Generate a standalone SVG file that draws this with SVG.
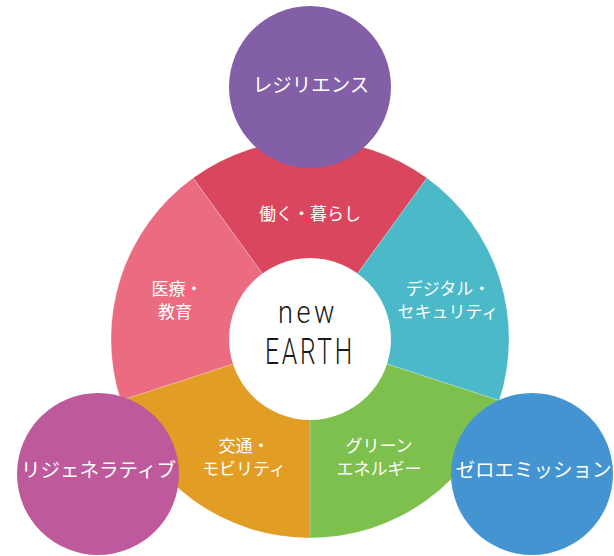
<svg xmlns="http://www.w3.org/2000/svg" width="614" height="556" viewBox="0 0 614 556">
<style>
.seg{stroke:#ffffff;stroke-opacity:0.35;stroke-width:0.6}
.lbl{font-family:"Noto Sans CJK JP","Noto Sans",sans-serif;fill:#ffffff;text-anchor:middle}
.in{font-size:17px}
.out{font-size:19.5px}
.logo{font-family:"Roboto","Liberation Sans",sans-serif;font-weight:300;fill:#1a1a1a;text-anchor:middle}
</style>
<rect width="614" height="556" fill="#ffffff"/>
<g id="ring">
<g id="seg-work"><path class="seg" fill="#D9465D" d="M310,339 L193.03,178.01 A199,199 0 0 1 426.97,178.01 Z"/></g>
<g id="seg-digital"><path class="seg" fill="#4BB9C7" d="M310,339 L426.97,178.01 A199,199 0 0 1 499.26,400.49 Z"/></g>
<g id="seg-green"><path class="seg" fill="#7DC04D" d="M310,339 L499.26,400.49 A199,199 0 0 1 310,538 Z"/></g>
<g id="seg-mobility"><path class="seg" fill="#E29D24" d="M310,339 L310,538 A199,199 0 0 1 120.74,400.49 Z"/></g>
<g id="seg-medical"><path class="seg" fill="#EB6C80" d="M310,339 L120.74,400.49 A199,199 0 0 1 193.03,178.01 Z"/></g>
</g>
<g id="center">
<circle cx="310" cy="339" r="81" fill="#ffffff"/>
<text class="logo" x="308" y="322.5" font-size="31" textLength="60" lengthAdjust="spacingAndGlyphs" letter-spacing="4">new</text>
<text class="logo" x="310" y="364" font-size="36" textLength="90" lengthAdjust="spacingAndGlyphs" letter-spacing="4">EARTH</text>
</g>
<g id="label-work"><text class="lbl in" x="310" y="220">働く・暮らし</text></g>
<g id="label-digital"><text class="lbl in" x="448" y="295">デジタル・</text><text class="lbl in" x="448" y="318">セキュリティ</text></g>
<g id="label-green"><text class="lbl in" x="379" y="452">グリーン</text><text class="lbl in" x="379" y="475">エネルギー</text></g>
<g id="label-mobility"><text class="lbl in" x="244" y="452">交通・</text><text class="lbl in" x="244" y="475">モビリティ</text></g>
<g id="label-medical"><text class="lbl in" x="177" y="295">医療・</text><text class="lbl in" x="175" y="318">教育</text></g>
<g id="resilience">
<circle cx="310" cy="87" r="81" fill="#825FA6"/>
<text class="lbl out" x="311" y="92">レジリエンス</text>
</g>
<g id="regenerative">
<circle cx="98" cy="474" r="81" fill="#BE5A9B"/>
<text class="lbl out" x="98.5" y="477">リジェネラティブ</text>
</g>
<g id="zero-emission">
<circle cx="532" cy="474" r="81" fill="#4594D2"/>
<text class="lbl out" x="533.5" y="477">ゼロエミッション</text>
</g>
<g id="connectors"></g>
</svg>
